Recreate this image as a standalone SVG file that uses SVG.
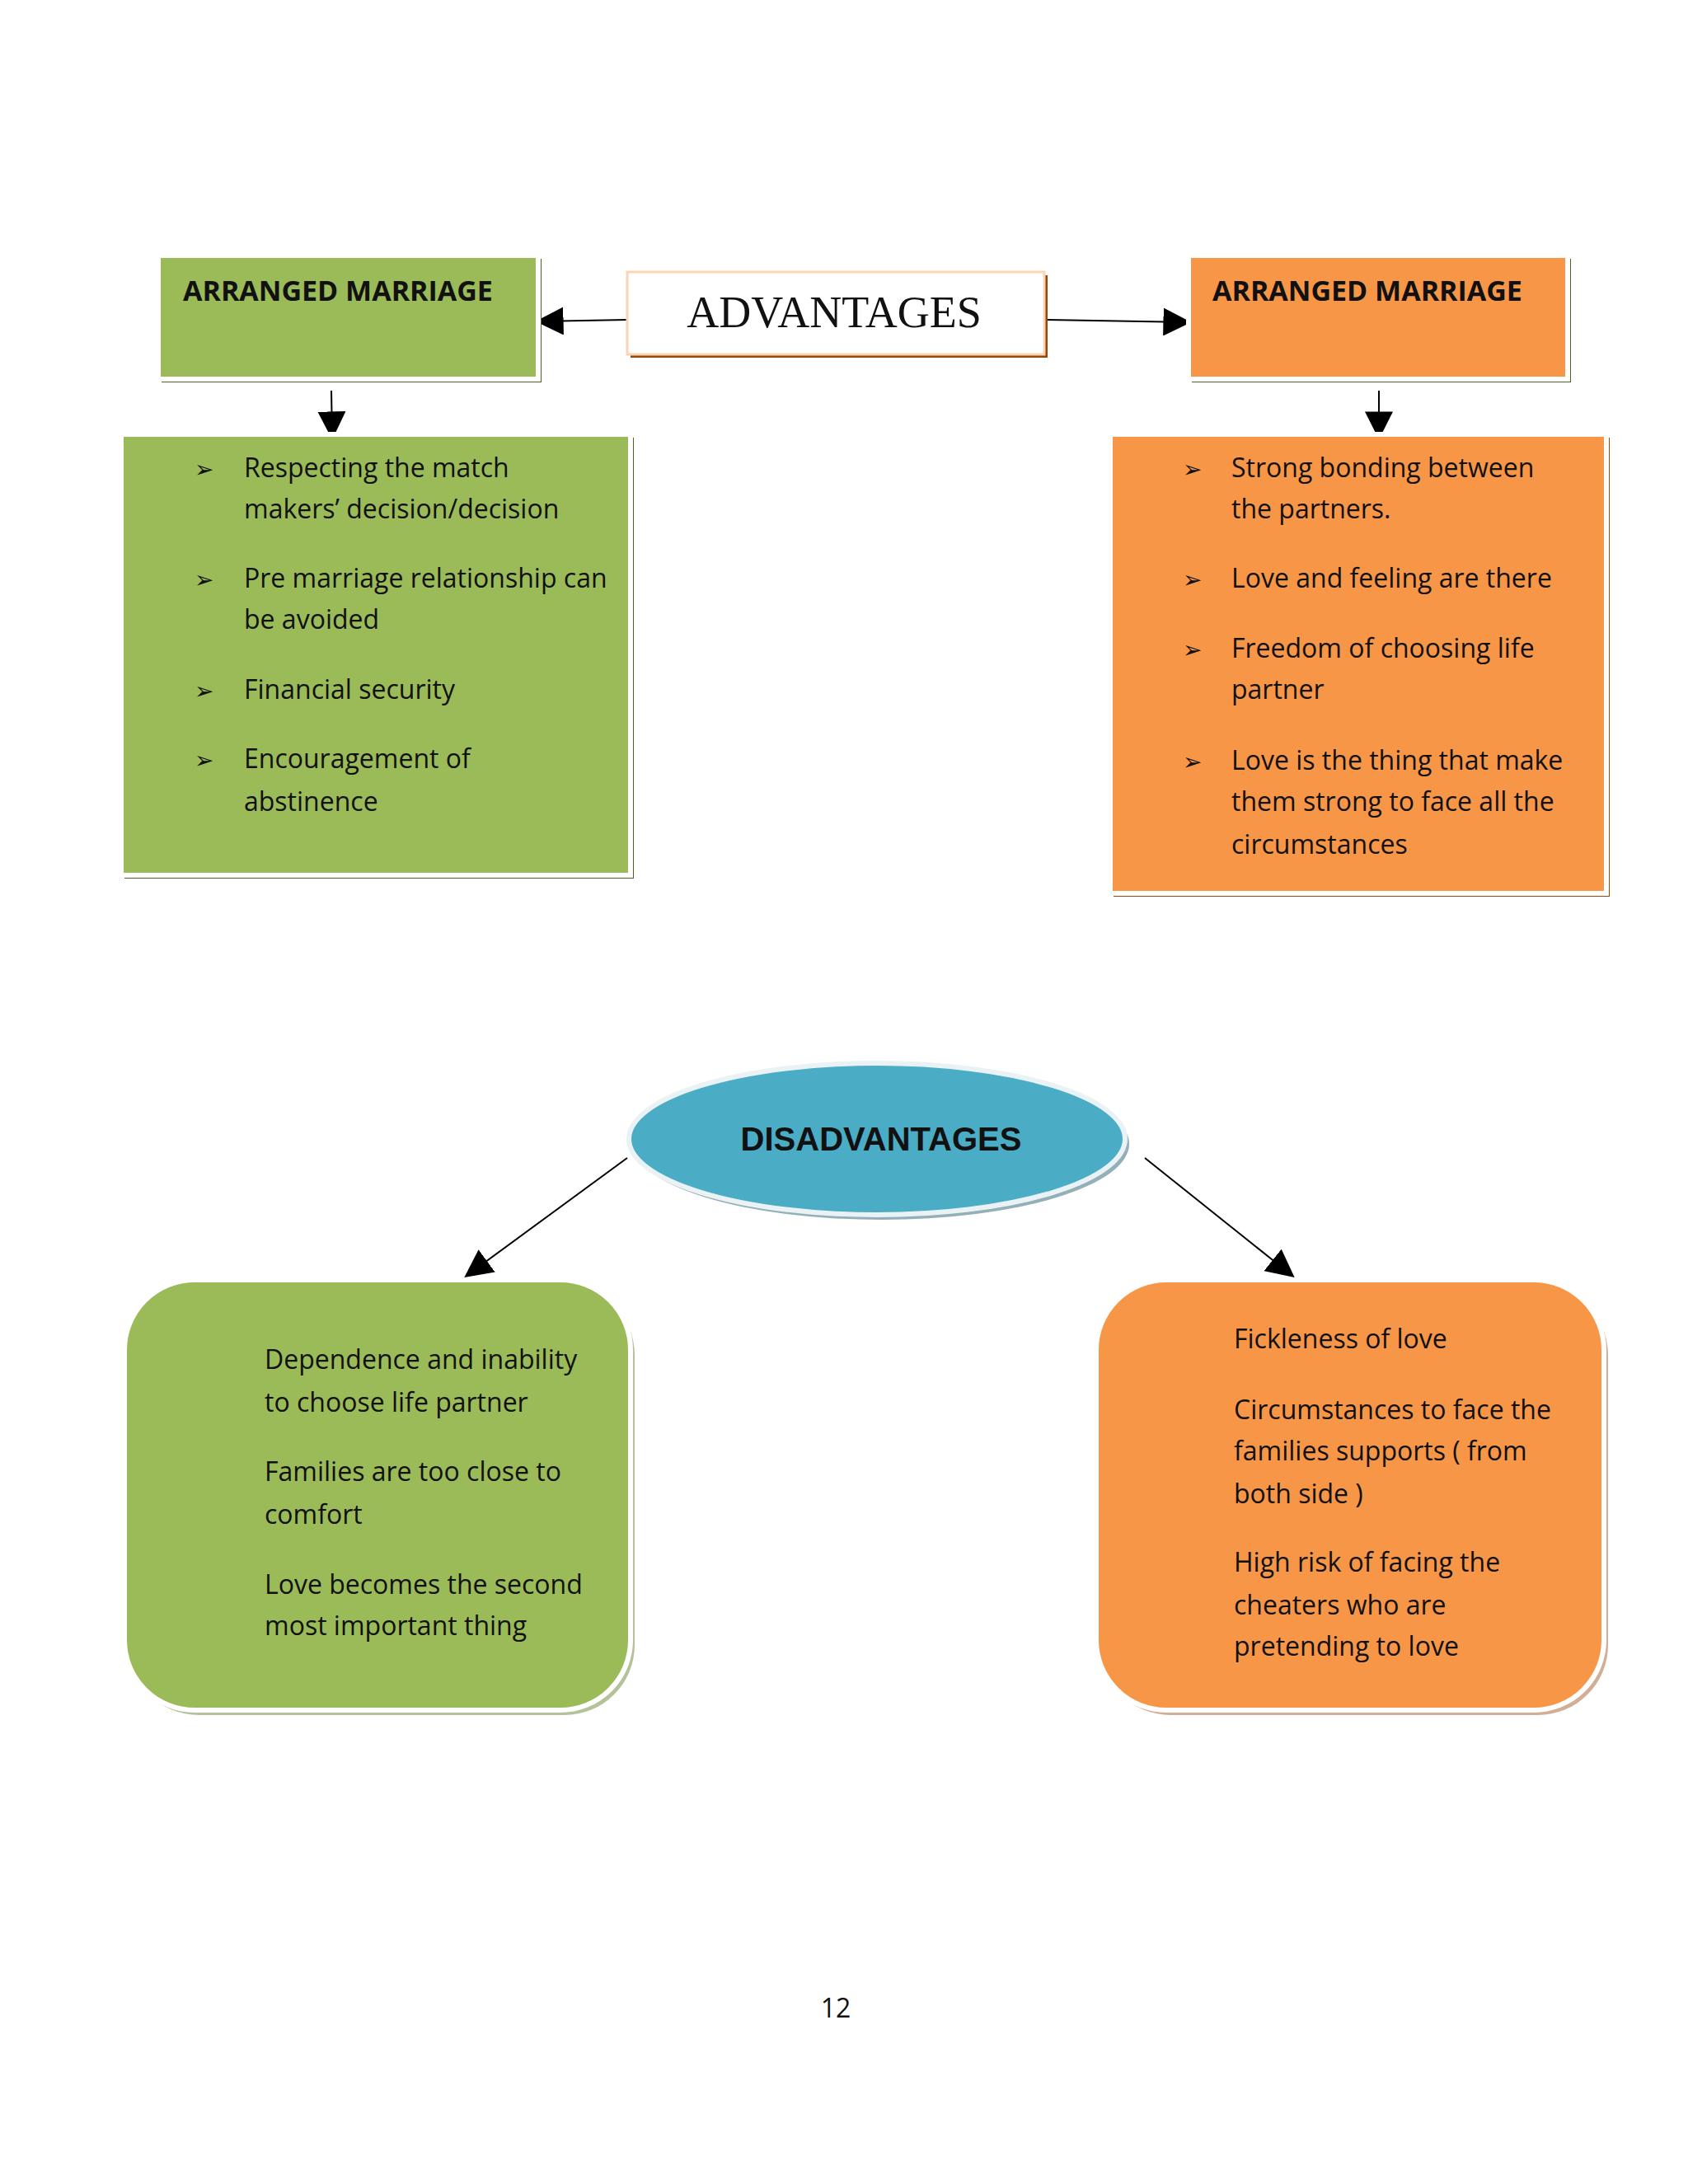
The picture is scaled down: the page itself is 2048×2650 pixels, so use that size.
<svg xmlns="http://www.w3.org/2000/svg" width="2048" height="2650" viewBox="0 0 2048 2650">
<defs>
<style>
.t{font-family:"Open Sans","Liberation Sans",sans-serif;font-size:32px;fill:#111}
.h{font-family:"Open Sans","Liberation Sans",sans-serif;font-size:34px;font-weight:bold;fill:#111}
.b{font-family:"DejaVu Sans",sans-serif;font-size:28px;fill:#111}
.g{fill:#9BBB59;stroke:#fff;stroke-width:6}
.o{fill:#F79646;stroke:#fff;stroke-width:6}
.c{stroke:#000;stroke-width:2;fill:none;marker-end:url(#a)}
</style>
<marker id="a" viewBox="0 0 10 10" refX="9" refY="5" markerWidth="12" markerHeight="12" markerUnits="userSpaceOnUse" orient="auto"><path d="M0,0L10,5L0,10z"/></marker>
<marker id="m" viewBox="0 0 10 10" refX="9" refY="5" markerWidth="34" markerHeight="34" markerUnits="userSpaceOnUse" orient="auto"><path d="M0,0L10,5L0,10z"/></marker>
</defs>
<rect width="2048" height="2650" fill="#fff"/>
<g id="connectors" stroke="#000" stroke-width="2" fill="none">
<line x1="761" y1="388" x2="653" y2="390" marker-end="url(#m)"/>
<line x1="1267" y1="388" x2="1442" y2="391" marker-end="url(#m)"/>
<line x1="402" y1="474" x2="403" y2="530" marker-end="url(#m)"/>
<line x1="1673" y1="474" x2="1673" y2="530" marker-end="url(#m)"/>
<line x1="761" y1="1405" x2="566" y2="1548" marker-end="url(#m)"/>
<line x1="1389" y1="1405" x2="1568" y2="1548" marker-end="url(#m)"/>
</g>
<g id="adv">
<rect x="765" y="334" width="506" height="100" fill="#974706"/>
<rect x="761" y="330" width="506" height="100" fill="#fff" stroke="#FBD4B4" stroke-width="3"/>
<text x="1012" y="397" text-anchor="middle" font-family="Liberation Serif,serif" font-size="54" fill="#111">ADVANTAGES</text>
</g>
<g id="am-left">
<rect x="196" y="314" width="461" height="150" fill="#4F6228"/>
<rect x="192" y="310" width="461" height="150" class="g"/>
<text x="222" y="365" class="h">ARRANGED MARRIAGE</text>
</g>
<g id="am-right">
<rect x="1446" y="314" width="460" height="150" fill="#4F6228"/>
<rect x="1442" y="310" width="460" height="150" class="o"/>
<text x="1471" y="365" class="h">ARRANGED MARRIAGE</text>
</g>
<g id="list-left">
<rect x="151" y="531" width="618" height="535" fill="#4F6228"/>
<rect x="147" y="527" width="618" height="535" class="g"/>
<text x="236" y="579" class="b">➢</text><text x="296" y="579" class="t">Respecting the match</text>
<text x="296" y="629" class="t">makers’ decision/decision</text>
<text x="236" y="713" class="b">➢</text><text x="296" y="713" class="t">Pre marriage relationship can</text>
<text x="296" y="763" class="t">be avoided</text>
<text x="236" y="848" class="b">➢</text><text x="296" y="848" class="t">Financial security</text>
<text x="236" y="932" class="b">➢</text><text x="296" y="932" class="t">Encouragement of</text>
<text x="296" y="984" class="t">abstinence</text>
</g>
<g id="list-right">
<rect x="1351" y="531" width="602" height="557" fill="#974706"/>
<rect x="1347" y="527" width="602" height="557" class="o"/>
<text x="1435" y="579" class="b">➢</text><text x="1494" y="579" class="t">Strong bonding between</text>
<text x="1494" y="629" class="t">the partners.</text>
<text x="1435" y="713" class="b">➢</text><text x="1494" y="713" class="t">Love and feeling are there</text>
<text x="1435" y="798" class="b">➢</text><text x="1494" y="798" class="t">Freedom of choosing life</text>
<text x="1494" y="848" class="t">partner</text>
<text x="1435" y="934" class="b">➢</text><text x="1494" y="934" class="t">Love is the thing that make</text>
<text x="1494" y="984" class="t">them strong to face all the</text>
<text x="1494" y="1036" class="t">circumstances</text>
</g>
<g id="disadv">
<ellipse cx="1069" cy="1388" rx="301" ry="92" fill="#93B0B8"/>
<ellipse cx="1064" cy="1382" rx="301" ry="92" fill="#4BACC6" stroke="#EAF2F5" stroke-width="6"/>
<text x="1069" y="1396" text-anchor="middle" font-family="Liberation Sans,sans-serif" font-size="40" font-weight="bold" fill="#111">DISADVANTAGES</text>
</g>
<g id="dis-left">
<rect x="156" y="1559" width="614" height="522" rx="85" fill="#B4C29A"/>
<rect x="151" y="1553" width="614" height="522" rx="85" class="g"/>
<text x="321" y="1661" class="t">Dependence and inability</text>
<text x="321" y="1713" class="t">to choose life partner</text>
<text x="321" y="1797" class="t">Families are too close to</text>
<text x="321" y="1849" class="t">comfort</text>
<text x="321" y="1934" class="t">Love becomes the second</text>
<text x="321" y="1984" class="t">most important thing</text>
</g>
<g id="dis-right">
<rect x="1335" y="1559" width="616" height="522" rx="85" fill="#D2AE96"/>
<rect x="1330" y="1553" width="616" height="522" rx="85" class="o"/>
<text x="1497" y="1636" class="t">Fickleness of love</text>
<text x="1497" y="1722" class="t">Circumstances to face the</text>
<text x="1497" y="1772" class="t">families supports ( from</text>
<text x="1497" y="1824" class="t">both side )</text>
<text x="1497" y="1907" class="t">High risk of facing the</text>
<text x="1497" y="1959" class="t">cheaters who are</text>
<text x="1497" y="2009" class="t">pretending to love</text>
</g>
<text x="1014" y="2448" text-anchor="middle" class="t">12</text>
</svg>
